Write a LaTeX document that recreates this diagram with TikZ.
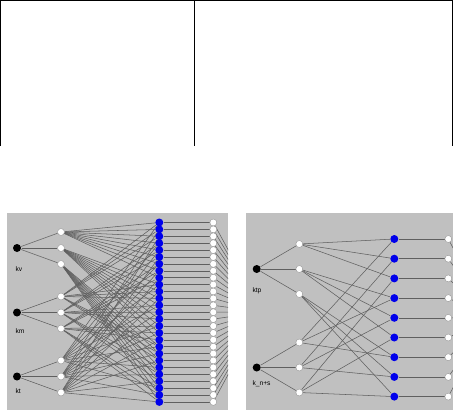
\documentclass[tikz,border=0pt]{standalone}
\usepackage{fontspec}
\setsansfont{Liberation Sans}
\usetikzlibrary{backgrounds}

\tikzset{every picture/.style={line width=0.75pt}}
\definecolor{panelgray}{RGB}{192,192,192}
\definecolor{edgegray}{RGB}{95,95,95}
\definecolor{ruleblue}{RGB}{0,0,235}
\tikzset{
  inpnode/.style={circle,fill=black,inner sep=0pt,minimum size=6pt},
  mfnode/.style={circle,fill=white,draw={rgb,255:red,150;green,150;blue,150},line width=0.3pt,inner sep=0pt,minimum size=5.2pt},
  rulenode/.style={circle,fill=ruleblue,inner sep=0pt,minimum size=6pt},
  outnode/.style={circle,fill=white,draw={rgb,255:red,150;green,150;blue,150},line width=0.3pt,inner sep=0pt,minimum size=5.2pt},
  edge/.style={draw=edgegray,line width=0.4pt},
  klabel/.style={anchor=west,inner sep=0.75pt,font=\sffamily\fontsize{5}{6}\selectfont}
}

\begin{document}
\begin{tikzpicture}[x=0.75pt,y=0.75pt,yscale=-1,xscale=1]
\useasboundingbox (0,0) rectangle (453,410);

%Table frame
\draw (0.5,146) -- (0.5,0.5) -- (452.5,0.5) -- (452.5,146) ;
\draw (194.5,0.5) -- (194.5,146) ;

%Left net: inputs
\node[inpnode] (lx1) at (17,248) {};
\node[inpnode] (lx2) at (17,312.5) {};
\node[inpnode] (lx3) at (17,376.5) {};
%Left net: membership nodes
\foreach \g/\cy in {1/248,2/312.5,3/376.5}
  \foreach \m in {1,2,3}{
    \pgfmathtruncatemacro{\n}{3*(\g-1)+\m}
    \node[mfnode] (lh\n) at (61,{\cy+16*(\m-2)}) {};
  }
%Left net: rules and outputs
\foreach \k in {0,...,26}{
  \node[rulenode] (lb\k) at (159.3,{222.5+6.9*\k}) {};
  \node[outnode] (lo\k) at (213.3,{222.5+6.9*\k}) {};
}
\coordinate (lsink) at (262,312);

%Right net: inputs
\node[inpnode] (rx1) at (256.7,269) {};
\node[inpnode] (rx2) at (256.7,367.5) {};
%Right net: membership nodes
\foreach \g/\cy in {1/269,2/367.5}
  \foreach \m in {1,2,3}{
    \pgfmathtruncatemacro{\n}{3*(\g-1)+\m}
    \node[mfnode] (rh\n) at (299.3,{\cy+25*(\m-2)}) {};
  }
%Right net: rules and outputs
\foreach \k in {0,...,8}{
  \node[rulenode] (rb\k) at (394.3,{239+19.7*\k}) {};
  \node[outnode] (ro\k) at (448.3,{239+19.7*\k}) {};
}
\coordinate (rsink) at (490,318);

% Text Node
\node[klabel] (lbv) at (14,269) {kv};
\node[klabel] (lbm) at (14,331) {km};
\node[klabel] (lbt) at (14,391) {kt};
\node[klabel] (lbp) at (251,291) {ktp};
\node[klabel] (lbs) at (251,384) {k\_n+s};

\begin{scope}[on background layer]
%Panels
\fill[panelgray] (7,213) rectangle (228,410) ;
\fill[panelgray] (246,213) rectangle (453,410) ;

%Left net: connections
\foreach \g in {1,2,3}
  \foreach \m in {1,2,3}{
    \pgfmathtruncatemacro{\n}{3*(\g-1)+\m}
    \draw[edge] (lx\g) -- (lh\n) ;
  }
\foreach \k in {0,...,26}{
  \pgfmathtruncatemacro{\ga}{div(\k,9)+1}
  \pgfmathtruncatemacro{\gb}{mod(div(\k,3),3)+4}
  \pgfmathtruncatemacro{\gc}{mod(\k,3)+7}
  \draw[edge] (lh\ga) -- (lb\k) ;
  \draw[edge] (lh\gb) -- (lb\k) ;
  \draw[edge] (lh\gc) -- (lb\k) ;
  \draw[edge] (lb\k) -- (lo\k) ;
}
\begin{scope}
\clip (7,213) rectangle (228,410) ;
\foreach \k in {0,...,26}
  \draw[edge] (lo\k) -- (lsink) ;
\end{scope}

%Right net: connections
\foreach \g in {1,2}
  \foreach \m in {1,2,3}{
    \pgfmathtruncatemacro{\n}{3*(\g-1)+\m}
    \draw[edge] (rx\g) -- (rh\n) ;
  }
\foreach \k in {0,...,8}{
  \pgfmathtruncatemacro{\ga}{div(\k,3)+1}
  \pgfmathtruncatemacro{\gb}{mod(\k,3)+4}
  \draw[edge] (rh\ga) -- (rb\k) ;
  \draw[edge] (rh\gb) -- (rb\k) ;
  \draw[edge] (rb\k) -- (ro\k) ;
}
\begin{scope}
\clip (246,213) rectangle (453,410) ;
\foreach \k in {0,...,8}
  \draw[edge] (ro\k) -- (rsink) ;
\end{scope}
\end{scope}

\end{tikzpicture}
\end{document}
